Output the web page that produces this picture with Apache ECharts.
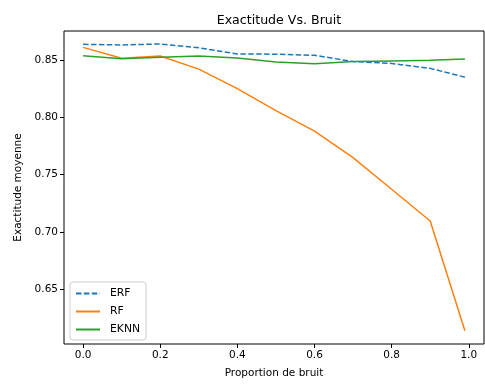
<!DOCTYPE html>
<html>
<head>
<meta charset="utf-8">
<script src="https://cdn.jsdelivr.net/npm/echarts@6/dist/echarts.min.js"></script>
<style>html,body{margin:0;padding:0;background:#fff;}#c{width:485px;height:385px;}</style>
</head>
<body>
<div id="c"></div>
<script>
var noise = [0.0, 0.1, 0.2, 0.3, 0.4, 0.5, 0.6, 0.7, 0.8, 0.9, 0.99];
var erf  = [0.8637, 0.8631, 0.8640, 0.8607, 0.8552, 0.8551, 0.8541, 0.8486, 0.8470, 0.8427, 0.8350];
var rf   = [0.8610, 0.8515, 0.8535, 0.8420, 0.8250, 0.8058, 0.7880, 0.7648, 0.7372, 0.7095, 0.6138];
var eknn = [0.8538, 0.8511, 0.8523, 0.8535, 0.8517, 0.8483, 0.8468, 0.8486, 0.8491, 0.8497, 0.8509];
var xTicks = [0.0, 0.2, 0.4, 0.6, 0.8, 1.0];
var yTicks = [0.65, 0.70, 0.75, 0.80, 0.85];

function pairs(ys){ return noise.map(function(x,i){ return [x, ys[i]]; }); }
var font = 'DejaVu Sans';
var chart = echarts.init(document.getElementById('c'), null, {renderer:'canvas'});
chart.setOption({
  animation: false,
  backgroundColor: '#fff',
  title: {
    text: 'Exactitude Vs. Bruit',
    left: 274, top: 9, textAlign: 'center',
    textStyle: {fontFamily: font, fontSize: 12.6, fontWeight: 'normal', color: '#000'}
  },
  grid: {left: 64, top: 31, right: 1, bottom: 41, show: true, borderColor: '#000', borderWidth: 1, backgroundColor: 'transparent'},
  xAxis: {
    type: 'value', min: -0.0495, max: 1.0395,
    name: 'Proportion de bruit', nameLocation: 'middle', nameGap: 24,
    nameTextStyle: {fontFamily: font, fontSize: 10.5, color: '#000'},
    axisLine: {show: false, onZero: false},
    splitLine: {show: false},
    axisTick: {show: true, length: 4, lineStyle: {color: '#000'}, customValues: xTicks},
    axisLabel: {fontFamily: font, fontSize: 10.5, color: '#000', margin: 6, customValues: xTicks,
      formatter: function(v){ return v.toFixed(1); }}
  },
  yAxis: {
    type: 'value', min: 0.6022, max: 0.8753,
    name: 'Exactitude moyenne', nameLocation: 'middle', nameGap: 40, nameRotate: 90,
    nameTextStyle: {fontFamily: font, fontSize: 10.5, color: '#000'},
    axisLine: {show: false, onZero: false},
    splitLine: {show: false},
    axisTick: {show: true, length: 4, lineStyle: {color: '#000'}, customValues: yTicks},
    axisLabel: {fontFamily: font, fontSize: 10.5, color: '#000', margin: 6, customValues: yTicks,
      formatter: function(v){ return v.toFixed(2); }}
  },
  legend: {
    orient: 'vertical', left: 70, top: 282,
    itemWidth: 24, itemHeight: 10, itemGap: 7,
    padding: [6, 6, 5, 5],
    itemStyle: {opacity: 0},
    backgroundColor: 'rgba(255,255,255,0.8)', borderColor: '#ccc', borderWidth: 1, borderRadius: 3,
    textStyle: {fontFamily: font, fontSize: 10.8, color: '#000', padding: [0, 0, 0, 5]},
    data: ['ERF', 'RF', 'EKNN']
  },
  series: [
    {name: 'ERF', type: 'line', data: pairs(erf), symbol: 'none', color: '#1f77b4',
     lineStyle: {width: 1.5, type: [5.5, 2.4], color: '#1f77b4'}},
    {name: 'RF', type: 'line', data: pairs(rf), symbol: 'none', color: '#ff7f0e',
     lineStyle: {width: 1.5, color: '#ff7f0e'}},
    {name: 'EKNN', type: 'line', data: pairs(eknn), symbol: 'none', color: '#2ca02c',
     lineStyle: {width: 1.5, color: '#2ca02c'}}
  ]
});
</script>
</body>
</html>
